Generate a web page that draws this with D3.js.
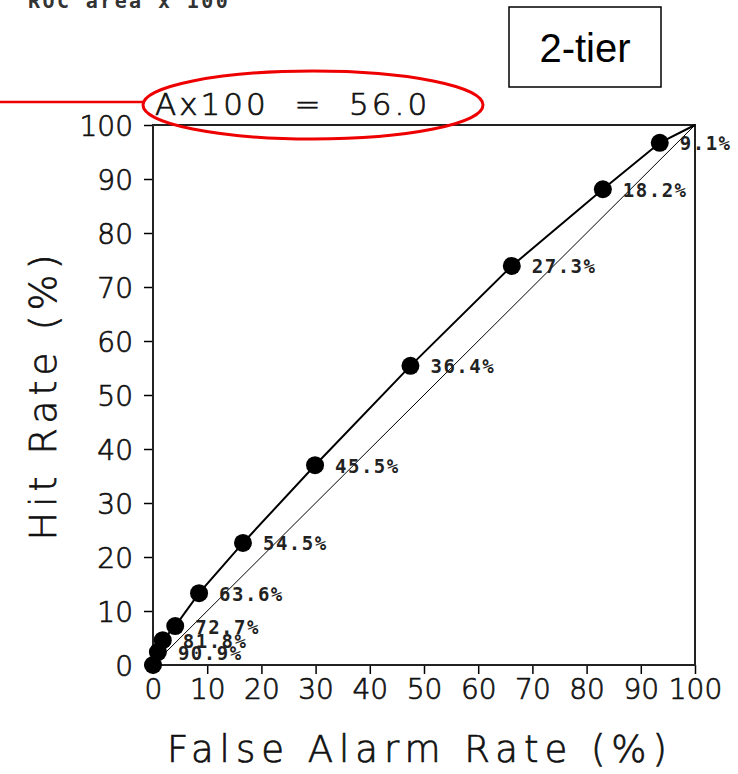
<!DOCTYPE html>
<meta charset="utf-8">
<style>
  body { margin: 0; background: #fff; }
  .tick text { font-family: "DejaVu Sans", sans-serif; font-weight: 300; fill: #111; stroke: #111; stroke-width: 0.7px; }
  .thin { font-family: "DejaVu Sans", sans-serif; font-weight: 300; fill: #111; stroke: #111; stroke-width: 0.7px; }
  .dot-label { font-family: "DejaVu Sans Mono", monospace; font-size: 19px; font-weight: bold; letter-spacing: 1.5px; fill: #222; }
</style>
<svg width="738" height="774"></svg>
<script src="https://d3js.org/d3.v7.min.js"></script>
<script>
  // false alarm rate (%) and hit rate (%) at each probability threshold
  var falseAlarm = [93.5, 83.0, 66.2, 47.5, 29.9, 16.6, 8.5, 4.1, 1.8, 0.9, 0];
  var hitRate = [96.7, 88.1, 73.9, 55.4, 37.0, 22.6, 13.3, 7.2, 4.6, 2.4, 0];
  var thresholds = ["9.1%", "18.2%", "27.3%", "36.4%", "45.5%", "54.5%", "63.6%", "72.7%", "81.8%", "90.9%", ""];
  var tickValues = [0, 10, 20, 30, 40, 50, 60, 70, 80, 90, 100];
  var rocScore = "56.0";

  var svg = d3.select("svg");
  var plotL = 153, plotR = 695, plotT = 125, plotB = 665;

  var x = d3.scaleLinear().domain([0, 100]).range([plotL, plotR]);
  var y = d3.scaleLinear().domain([0, 100]).range([plotB, plotT]);

  var pts = falseAlarm.map(function(d, i) {
    return { fa: d, hr: hitRate[i], label: thresholds[i] };
  });

  // header bits
  svg.append("text")
    .attr("x", 28).attr("y", 8)
    .style("font-family", "DejaVu Sans Mono, monospace")
    .style("font-size", "20px")
    .style("font-weight", "bold")
    .style("letter-spacing", "2.4px")
    .style("fill", "#333")
    .text("ROC area x 100");

  svg.append("rect")
    .attr("x", 509).attr("y", 7).attr("width", 152).attr("height", 80)
    .attr("fill", "none").attr("stroke", "#000").attr("stroke-width", 1.5);
  svg.append("text")
    .attr("x", 585).attr("y", 62)
    .attr("text-anchor", "middle")
    .style("font-family", "Liberation Sans, Arial, sans-serif")
    .style("font-size", "40px")
    .text("2-tier");

  svg.append("text")
    .attr("class", "thin")
    .attr("x", 155).attr("y", 115)
    .style("font-size", "31px")
    .style("letter-spacing", "3px")
    .style("white-space", "pre")
    .text("Ax100  =  " + rocScore);

  // axes
  svg.append("g")
    .attr("transform", "translate(0," + plotB + ")")
    .call(d3.axisBottom(x).tickValues(tickValues).tickSize(9).tickPadding(5))
    .call(function(g) { g.select(".domain").remove(); })
    .selectAll("text").style("font-size", "28px");

  svg.append("g")
    .attr("transform", "translate(" + plotL + ",0)")
    .call(d3.axisLeft(y).tickValues(tickValues).tickSize(9).tickPadding(11))
    .call(function(g) { g.select(".domain").remove(); })
    .selectAll("text").style("font-size", "28px").attr("dy", "0.36em");

  svg.selectAll(".tick line").attr("stroke", "#000").attr("stroke-width", 1.5);

  svg.append("rect")
    .attr("x", plotL).attr("y", plotT)
    .attr("width", plotR - plotL).attr("height", plotB - plotT)
    .attr("fill", "none").attr("stroke", "#222").attr("stroke-width", 2);

  // no-skill diagonal
  svg.append("line")
    .attr("x1", x(0)).attr("y1", y(0)).attr("x2", x(100)).attr("y2", y(100))
    .attr("stroke", "#000").attr("stroke-width", 1);

  // roc curve, closed at both corners
  var curve = [{ fa: 100, hr: 100 }].concat(pts);
  svg.append("path")
    .datum(curve)
    .attr("fill", "none").attr("stroke", "#000").attr("stroke-width", 2)
    .attr("d", d3.line().x(function(d) { return x(d.fa); }).y(function(d) { return y(d.hr); }));

  svg.selectAll("circle.pt")
    .data(pts)
    .enter().append("circle")
    .attr("class", "pt")
    .attr("cx", function(d) { return x(d.fa); })
    .attr("cy", function(d) { return y(d.hr); })
    .attr("r", 9)
    .attr("fill", "#000");

  svg.selectAll("text.dot-label")
    .data(pts)
    .enter().append("text")
    .attr("class", "dot-label")
    .attr("x", function(d) { return x(d.fa) + 20; })
    .attr("y", function(d) { return y(d.hr) + 7.5; })
    .text(function(d) { return d.label; });

  // axis titles
  svg.append("text")
    .attr("class", "thin")
    .attr("transform", "translate(56,395) rotate(-90)")
    .attr("text-anchor", "middle")
    .style("font-size", "38px")
    .style("letter-spacing", "5px")
    .text("Hit Rate (%)");

  svg.append("text")
    .attr("class", "thin")
    .attr("x", 420).attr("y", 762)
    .attr("text-anchor", "middle")
    .style("font-size", "37px")
    .style("letter-spacing", "6px")
    .text("False Alarm Rate (%)");

  // red callout
  svg.append("line")
    .attr("x1", 0).attr("y1", 102).attr("x2", 143).attr("y2", 102)
    .attr("stroke", "#e00").attr("stroke-width", 2.5);
  svg.append("ellipse")
    .attr("cx", 313).attr("cy", 105).attr("rx", 170).attr("ry", 34)
    .attr("fill", "none").attr("stroke", "#e00").attr("stroke-width", 3);
</script>
